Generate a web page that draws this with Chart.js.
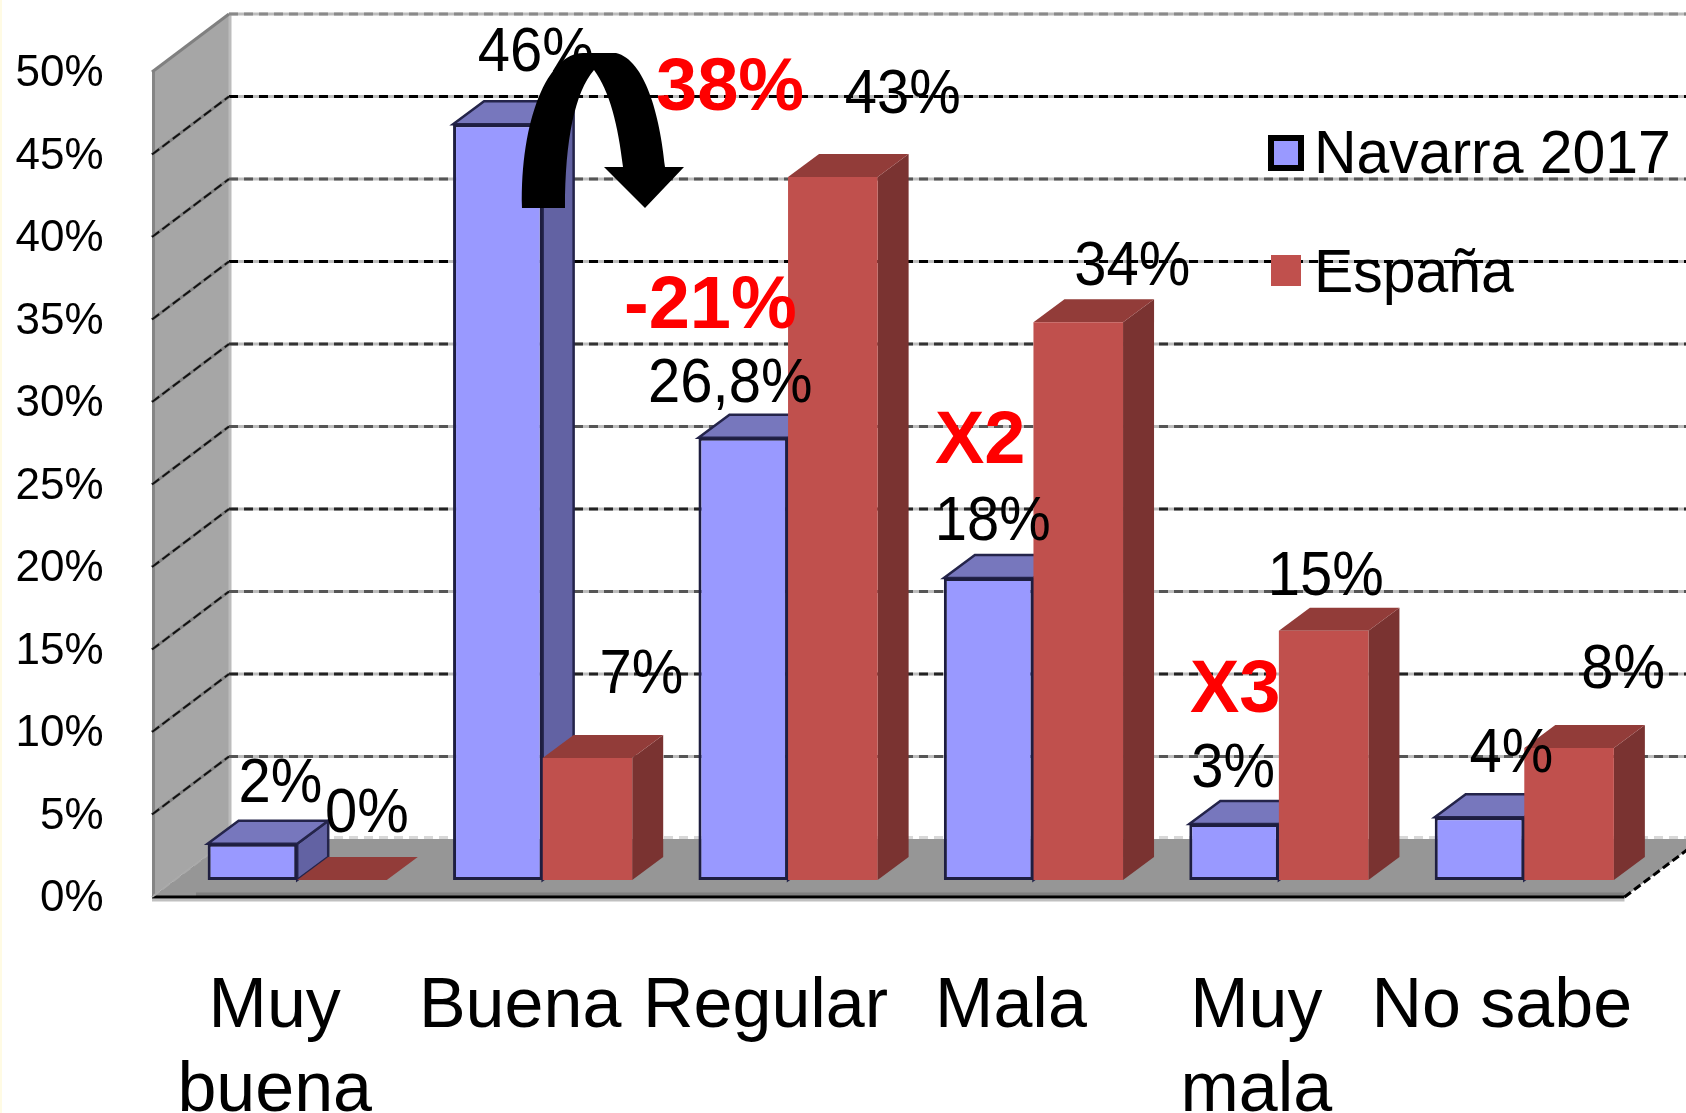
<!DOCTYPE html>
<html lang="es">
<head>
<meta charset="utf-8">
<style>html,body{margin:0;padding:0;background:#fff}canvas{display:block}</style>
<script src="https://cdn.jsdelivr.net/npm/chart.js@4"></script>
</head>
<body>
<canvas id="c" width="1686" height="1113"></canvas>
<script>
const categories = [['Muy','buena'],'Buena','Regular','Mala',['Muy','mala'],'No sabe'];
const seriesNames = ['Navarra 2017','España'];
const navarra = [2.2,45.8,26.8,18.3,3.4,3.8];
const espana = [0,7.4,42.6,33.8,15.1,8];
const navarraLabels = ['2%','46%','26,8%','18%','3%','4%'];
const espanaLabels = ['0%','7%','43%','34%','15%','8%'];
const callouts = ['38%','-21%','X2','X3'];

const FONT='"Liberation Sans", Arial, sans-serif';
// label offsets from each bar's top-centre
const labelOff=[
 [[28,-42],[38,-53],[-13,-36],[4,-38],[-1,-37],[32,-45]],
 [[25,-48],[54,-65],[70,-64],[54,-37],[2,-36],[54,-60]]];
const calloutPos=[[656,110],[624,328],[935,463],[1190,712]];
const gridDash=['#8a8a8a','#000','#555','#000','#333','#555','#222','#555','#222','#555'];
const WALL_DX=77,WALL_DY=58,FRONT_DX=22.5,FRONT_DY=17,BAR_DX=31,BAR_DY=23;

function poly(ctx,pts,fill,stroke,lw){
  ctx.beginPath();pts.forEach((p,i)=>i?ctx.lineTo(p[0],p[1]):ctx.moveTo(p[0],p[1]));ctx.closePath();
  if(fill){ctx.fillStyle=fill;ctx.fill();}
  if(stroke){ctx.strokeStyle=stroke;ctx.lineWidth=lw||2;ctx.stroke();}
}
function seg(ctx,x0,y0,x1,y1,color,w,dash){
  ctx.save();ctx.beginPath();ctx.moveTo(x0,y0);ctx.lineTo(x1,y1);
  ctx.strokeStyle=color;ctx.lineWidth=w;ctx.setLineDash(dash||[]);ctx.stroke();ctx.restore();
}
function noPad(s){s.paddingLeft=s.paddingRight=s.paddingTop=s.paddingBottom=0;}
const scene={
  id:'scene',
  beforeDraw(chart){
    const ctx=chart.ctx,y=chart.scales.y,x=chart.scales.x;
    const frontL=x.left-FRONT_DX,frontR=x.right-FRONT_DX,baseF=y.getPixelForValue(0)+FRONT_DY;
    const topF=y.getPixelForValue(50)+FRONT_DY;
    const backL=frontL+WALL_DX,backBase=baseF-WALL_DY,backTop=topF-WALL_DY;
    ctx.save();
    ctx.fillStyle='#fffbe4';ctx.fillRect(0,0,2,chart.height);
    // side wall
    poly(ctx,[[frontL,topF],[backL,backTop],[backL,backBase],[frontL,baseF]],'#a6a6a6');
    seg(ctx,frontL+1.5,topF,frontL+1.5,baseF,'#858585',3);
    seg(ctx,backL+1,backTop,backL+1,backBase,'#bcbcbc',3);
    seg(ctx,frontL,topF,backL,backTop,'#808080',3);
    // back gridlines and wall diagonals
    y.ticks.forEach((t,i)=>{
      const p=y.getPixelForValue(t.value);
      const by=p+FRONT_DY-WALL_DY,fy=p+FRONT_DY;
      const c=gridDash[9-(i-1)]||'#777';
      if(t.value>0){
        seg(ctx,backL,by,chart.width,by,'#bdbdbd',3);
        seg(ctx,backL,by,chart.width,by,t.value===50?'#8a8a8a':c,3,[9,6]);
        if(t.value<50){
          seg(ctx,frontL,fy,backL,by,'#808080',3);
          seg(ctx,frontL,fy,backL,by,'#111',2,[9,4]);
        }
      }
    });
    // floor
    poly(ctx,[[frontL,baseF],[frontR,baseF],[frontR+WALL_DX,backBase],[backL,backBase]],'#969696');
    seg(ctx,backL,backBase-1.5,chart.width,backBase-1.5,'#d8d8d8',3,[9,6]);
    seg(ctx,frontL+44,baseF-2.5,frontR,baseF-2.5,'#7f7f7f',4);
    seg(ctx,frontL,baseF+3,frontR,baseF+3,'#c0c0c0',3);
    seg(ctx,frontL,baseF,frontR,baseF,'#000',3);
    seg(ctx,frontL,baseF,backL,backBase,'#aaa',2,[9,4]);
    seg(ctx,frontR,baseF,frontR+WALL_DX,backBase,'#000',3,[8,4]);
    ctx.restore();
  },
  beforeDatasetsDraw(chart){
    const ctx=chart.ctx;
    const face=[
      {top:'#7777bd',side:'#6262a3',stroke:'#24244a',lw:2.5},
      {top:'#923c39',side:'#7a3331',stroke:null}];
    ctx.save();
    ctx.lineJoin='miter';
    chart.data.datasets.forEach((ds,d)=>{
      const f=face[d];
      chart.getDatasetMeta(d).data.forEach(b=>{
        const x0=b.x-b.width/2,x1=b.x+b.width/2,yT=b.y,yB=b.base;
        if(yB-yT>0.5) poly(ctx,[[x1,yT],[x1+BAR_DX,yT-BAR_DY],[x1+BAR_DX,yB-BAR_DY],[x1,yB]],f.side,f.stroke,f.lw);
        poly(ctx,[[x0,yT],[x1,yT],[x1+BAR_DX,yT-BAR_DY],[x0+BAR_DX,yT-BAR_DY]],f.top,f.stroke,f.lw);
      });
    });
    ctx.restore();
  },
  afterDatasetsDraw(chart){
    const ctx=chart.ctx;
    ctx.save();
    // value labels
    ctx.fillStyle='#000';ctx.textBaseline='alphabetic';ctx.textAlign='center';
    [navarraLabels,espanaLabels].forEach((list,d)=>{
      chart.getDatasetMeta(d).data.forEach((b,i)=>{
        ctx.save();
        ctx.translate(b.x+labelOff[d][i][0],b.y+labelOff[d][i][1]);
        ctx.scale(0.92,1);
        ctx.font='63px '+FONT;
        ctx.fillText(list[i],0,0);
        ctx.restore();
      });
    });
    // legend
    ctx.textAlign='left';
    ctx.fillStyle='#000';ctx.fillRect(1268,135,36,36);
    ctx.fillStyle=chart.data.datasets[0].backgroundColor;ctx.fillRect(1274,141,24,24);
    ctx.fillStyle=chart.data.datasets[1].backgroundColor;ctx.fillRect(1271,255,30,31);
    ctx.fillStyle='#000';
    [[seriesNames[0],173],[seriesNames[1],292]].forEach(([t,yy])=>{
      ctx.save();ctx.translate(1314,yy);ctx.scale(0.95,1);
      ctx.font='62px '+FONT;ctx.fillText(t,0,0);ctx.restore();
    });
    // curved arrow
    ctx.beginPath();
    ctx.moveTo(522,208);
    ctx.bezierCurveTo(520,120,548,53,583,53);
    ctx.lineTo(616,53);
    ctx.bezierCurveTo(645,60,660,115,665,167);
    ctx.lineTo(684,167);ctx.lineTo(645,208);ctx.lineTo(604,167);ctx.lineTo(623,167);
    ctx.bezierCurveTo(618,125,610,92,594,70);
    ctx.bezierCurveTo(575,92,565,140,565,208);
    ctx.closePath();
    ctx.fillStyle='#000';ctx.fill();
    // red callouts
    ctx.fillStyle='#ff0000';ctx.font='bold 74px '+FONT;
    callouts.forEach((t,i)=>ctx.fillText(t,calloutPos[i][0],calloutPos[i][1]));
    ctx.restore();
  }
};

new Chart(document.getElementById('c'),{
  type:'bar',
  data:{labels:categories,datasets:[
    {label:seriesNames[0],data:navarra,backgroundColor:'#9999ff',borderColor:'#1e1e40',borderWidth:3,borderSkipped:false,categoryPercentage:0.73,barPercentage:1},
    {label:seriesNames[1],data:espana,backgroundColor:'#c0504d',borderWidth:0,categoryPercentage:0.73,barPercentage:1}
  ]},
  plugins:[scene],
  options:{
    responsive:false,animation:false,devicePixelRatio:1,
    layout:{autoPadding:false,padding:{top:55,right:39,left:0,bottom:0}},
    plugins:{legend:{display:false},title:{display:false},tooltip:{enabled:false}},
    scales:{
      x:{
        grid:{display:false,drawTicks:false},border:{display:false},
        afterFit(s){s.height=233;noPad(s);},
        ticks:{color:'#000',font:{family:FONT,size:70,lineHeight:1.2},padding:86,labelOffset:-22.5,maxRotation:0,minRotation:0,autoSkip:false}
      },
      y:{
        min:0,max:50,
        grid:{display:false,drawTicks:false},border:{display:false},
        afterFit(s){s.width=174.5;noPad(s);},
        ticks:{stepSize:5,color:'#000',font:{family:FONT,size:44},padding:71,labelOffset:19,callback:v=>v+'%'}
      }
    }
  }
});
</script>
</body>
</html>
